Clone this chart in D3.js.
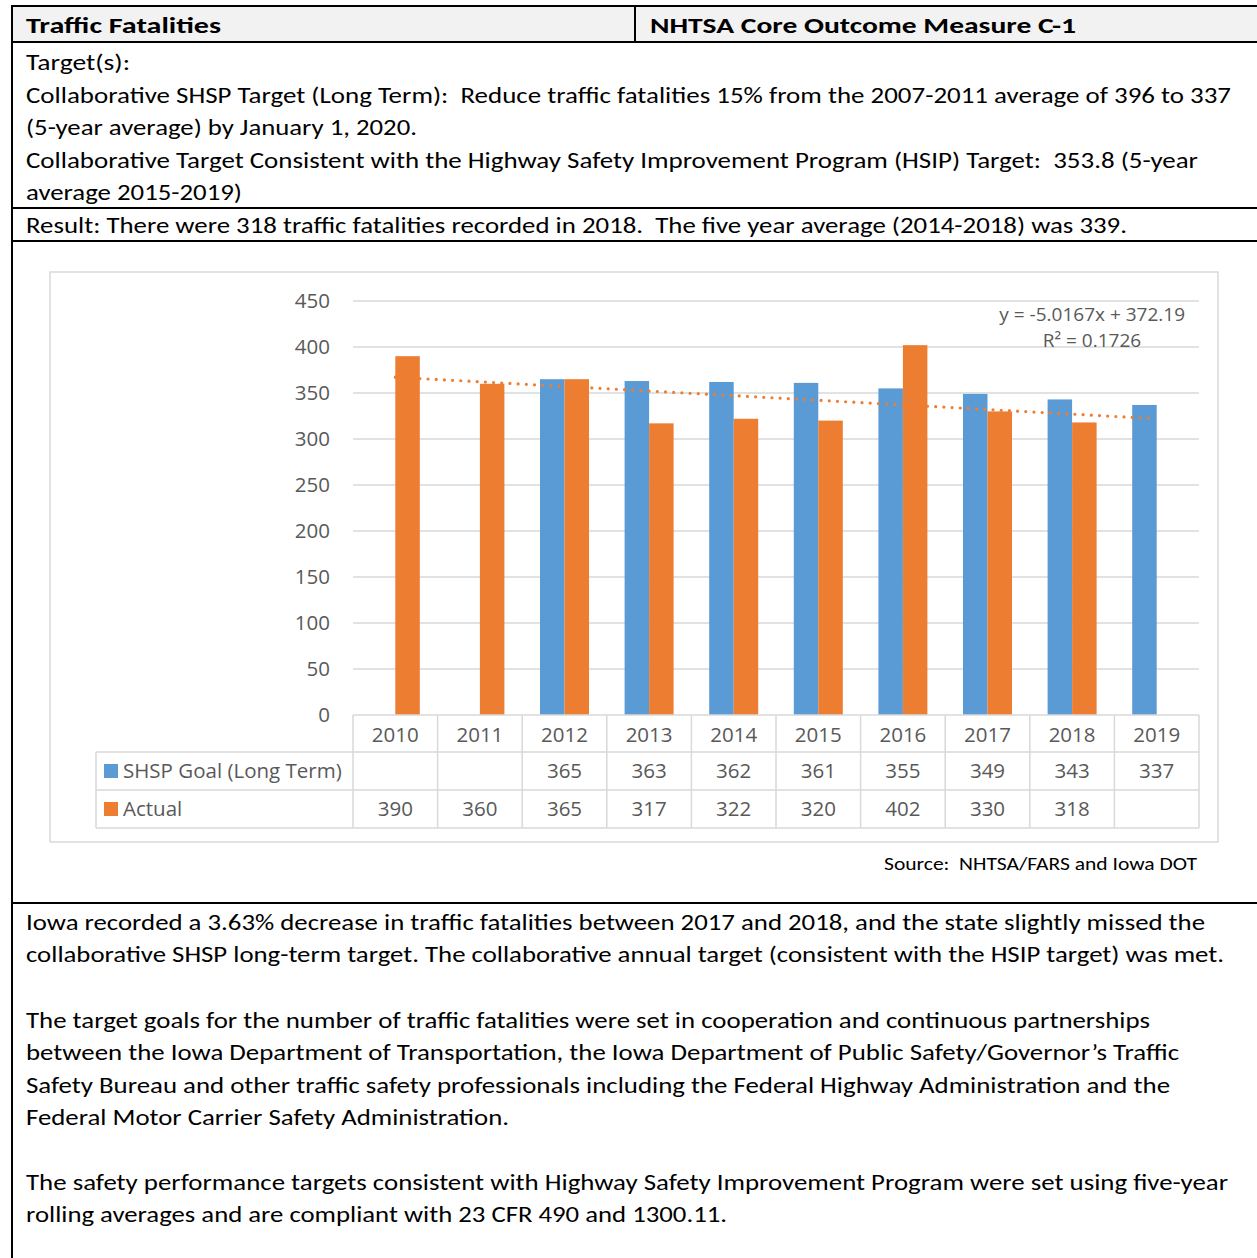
<!DOCTYPE html>
<html>
<head>
<meta charset="utf-8">
<script src="https://cdn.jsdelivr.net/npm/d3@7"></script>
<style>
body { margin: 0; background: #fff; }
svg text { font-family: Carlito, "Open Sans", sans-serif; white-space: pre; }
svg text.chart { font-family: "Open Sans", sans-serif; }
</style>
</head>
<body>
<script>
// chart data
var years = ['2010','2011','2012','2013','2014','2015','2016','2017','2018','2019'];
var goal = [null, null, 365, 363, 362, 361, 355, 349, 343, 337];
var actual = [390, 360, 365, 317, 322, 320, 402, 330, 318, null];
var yTicks = [0, 50, 100, 150, 200, 250, 300, 350, 400, 450];
var seriesNames = ['SHSP Goal (Long Term)', 'Actual'];
var colors = ['#5b9bd5', '#ed7d31'];

// document text, with the width each line takes in the original
var header = [['Traffic Fatalities', 26, 195], ['NHTSA Core Outcome Measure C-1', 650, 426]];
var targetLines = [
  ['Target(s):', 104],
  ['Collaborative SHSP Target (Long Term):  Reduce traffic fatalities 15% from the 2007-2011 average of 396 to 337', 1205],
  ['(5-year average) by January 1, 2020.', 391],
  ['Collaborative Target Consistent with the Highway Safety Improvement Program (HSIP) Target:  353.8 (5-year', 1172],
  ['average 2015-2019)', 216]
];
var resultLine = ['Result: There were 318 traffic fatalities recorded in 2018.  The five year average (2014-2018) was 339.', 1101];
var bottomLines = [
  [922, 'Iowa recorded a 3.63% decrease in traffic fatalities between 2017 and 2018, and the state slightly missed the', 1179],
  [954, 'collaborative SHSP long-term target. The collaborative annual target (consistent with the HSIP target) was met.', 1198],
  [1020, 'The target goals for the number of traffic fatalities were set in cooperation and continuous partnerships', 1124],
  [1052, 'between the Iowa Department of Transportation, the Iowa Department of Public Safety/Governor\u2019s Traffic', 1153],
  [1085, 'Safety Bureau and other traffic safety professionals including the Federal Highway Administration and the', 1144],
  [1117, 'Federal Motor Carrier Safety Administration.', 483],
  [1182, 'The safety performance targets consistent with Highway Safety Improvement Program were set using five-year', 1202],
  [1214, 'rolling averages and are compliant with 23 CFR 490 and 1300.11.', 701]
];

var W = 1257, H = 1258;
var svg = d3.select('body').append('svg').attr('width', W).attr('height', H);

function textLine(x, cy, str, len, size, weight, fill) {
  svg.append('text').attr('x', x).attr('y', cy).attr('dy', '0.35em')
    .attr('font-size', size).attr('font-weight', weight || 'normal')
    .attr('fill', fill || '#000')
    .attr('textLength', len).attr('lengthAdjust', 'spacingAndGlyphs')
    .text(str);
}

// document table
svg.append('rect').attr('x', 12).attr('y', 6).attr('width', W).attr('height', 36).attr('fill', '#f2f2f2');
header.forEach(function(h) { textLine(h[1], 25, h[0], h[2], 23, 'bold'); });
targetLines.forEach(function(t, i) { textLine(26, 62 + i * 32.6, t[0], t[1], 23); });
textLine(26, 225, resultLine[0], resultLine[1], 23);
bottomLines.forEach(function(b) { textLine(26, b[0], b[1], b[2], 23); });

[6, 42, 208, 241, 903].forEach(function(y) {
  svg.append('line').attr('x1', 11).attr('x2', W).attr('y1', y).attr('y2', y)
    .attr('stroke', '#000').attr('stroke-width', 2);
});
svg.append('line').attr('x1', 12).attr('x2', 12).attr('y1', 5).attr('y2', H).attr('stroke', '#000').attr('stroke-width', 2);
svg.append('line').attr('x1', 635).attr('x2', 635).attr('y1', 6).attr('y2', 42).attr('stroke', '#000').attr('stroke-width', 2);

// chart frame
svg.append('rect').attr('x', 50).attr('y', 272).attr('width', 1168).attr('height', 570)
  .attr('fill', 'none').attr('stroke', '#d9d9d9').attr('stroke-width', 1.5);

var x0 = d3.scaleBand().domain(years).range([353, 1199]);
var x1 = d3.scaleBand().domain([0, 1]).range([17.8, x0.bandwidth() - 17.8]);
var y = d3.scaleLinear().domain([0, 450]).range([715, 301]);

var grid = svg.append('g');
grid.selectAll('line').data(yTicks.slice(1)).join('line')
  .attr('x1', 353).attr('x2', 1199)
  .attr('y1', function(d) { return y(d); }).attr('y2', function(d) { return y(d); })
  .attr('stroke', '#d9d9d9').attr('stroke-width', 1.5);

svg.append('g').selectAll('text').data(yTicks).join('text').attr('class', 'chart')
  .attr('x', 330).attr('y', function(d) { return y(d); }).attr('dy', '0.35em')
  .attr('text-anchor', 'end').attr('font-size', 20.5).attr('fill', '#595959')
  .text(function(d) { return d; });

// bars
var series = [goal, actual];
series.forEach(function(vals, s) {
  svg.append('g').selectAll('rect')
    .data(years.map(function(yr, i) { return { yr: yr, v: vals[i] }; }).filter(function(d) { return d.v != null; }))
    .join('rect')
    .attr('x', function(d) { return x0(d.yr) + x1(s); })
    .attr('width', x1.bandwidth())
    .attr('y', function(d) { return y(d.v); })
    .attr('height', function(d) { return y(0) - y(d.v); })
    .attr('fill', colors[s]);
});

// linear trendline of Actual, extended one period forward
var pts = actual.map(function(v, i) { return [i + 1, v]; }).filter(function(p) { return p[1] != null; });
var mx = d3.mean(pts, function(p) { return p[0]; }), my = d3.mean(pts, function(p) { return p[1]; });
var sxy = d3.sum(pts, function(p) { return (p[0] - mx) * (p[1] - my); });
var sxx = d3.sum(pts, function(p) { return (p[0] - mx) * (p[0] - mx); });
var slope = sxy / sxx, icpt = my - slope * mx;
var ssTot = d3.sum(pts, function(p) { return (p[1] - my) * (p[1] - my); });
var ssRes = d3.sum(pts, function(p) { var e = p[1] - (slope * p[0] + icpt); return e * e; });
var r2 = 1 - ssRes / ssTot;

var cx = function(i) { return x0(years[i - 1]) + x0.bandwidth() / 2; };
svg.append('path')
  .datum([1, years.length])
  .attr('d', d3.line().x(function(i) { return cx(i); }).y(function(i) { return y(slope * i + icpt); }))
  .attr('fill', 'none').attr('stroke', colors[1]).attr('stroke-width', 3.2)
  .attr('stroke-linecap', 'round').attr('stroke-dasharray', '0 8.2');

svg.append('text').attr('class', 'chart').attr('x', 1185).attr('y', 314).attr('dy', '0.35em').attr('text-anchor', 'end')
  .attr('font-size', 19).attr('fill', '#595959')
  .text('y = ' + slope.toFixed(4) + 'x + ' + icpt.toFixed(2));
svg.append('text').attr('class', 'chart').attr('x', 1092).attr('y', 340).attr('dy', '0.35em').attr('text-anchor', 'middle')
  .attr('font-size', 19).attr('fill', '#595959')
  .text('R\u00b2 = ' + r2.toFixed(4));

// data table under the axis
var rowY = [715, 752, 790, 828];
var tbl = svg.append('g').attr('stroke', '#d9d9d9').attr('stroke-width', 1.5);
tbl.append('line').attr('x1', 353).attr('x2', 1199).attr('y1', rowY[0]).attr('y2', rowY[0]);
rowY.slice(1).forEach(function(ry) {
  tbl.append('line').attr('x1', 96).attr('x2', 1199).attr('y1', ry).attr('y2', ry);
});
tbl.append('line').attr('x1', 96).attr('x2', 96).attr('y1', rowY[1]).attr('y2', rowY[3]);
years.concat(['end']).forEach(function(yr, i) {
  var xx = 353 + i * x0.bandwidth();
  tbl.append('line').attr('x1', xx).attr('x2', xx).attr('y1', rowY[0]).attr('y2', rowY[3]);
});

svg.append('g').selectAll('text').data(years).join('text').attr('class', 'chart')
  .attr('x', function(d) { return x0(d) + x0.bandwidth() / 2; })
  .attr('y', (rowY[0] + rowY[1]) / 2 + 1).attr('dy', '0.35em')
  .attr('text-anchor', 'middle').attr('font-size', 20.5).attr('fill', '#595959')
  .text(function(d) { return d; });

series.forEach(function(vals, s) {
  var cyRow = (rowY[s + 1] + rowY[s + 2]) / 2;
  svg.append('rect').attr('x', 104).attr('y', cyRow - 7).attr('width', 14).attr('height', 14).attr('fill', colors[s]);
  svg.append('text').attr('class', 'chart').attr('x', 123).attr('y', cyRow).attr('dy', '0.35em')
    .attr('font-size', 20.5).attr('fill', '#595959').text(seriesNames[s]);
  svg.append('g').selectAll('text')
    .data(years.map(function(yr, i) { return { yr: yr, v: vals[i] }; }).filter(function(d) { return d.v != null; }))
    .join('text').attr('class', 'chart')
    .attr('x', function(d) { return x0(d.yr) + x0.bandwidth() / 2; })
    .attr('y', cyRow).attr('dy', '0.35em')
    .attr('text-anchor', 'middle').attr('font-size', 20.5).attr('fill', '#595959')
    .text(function(d) { return d.v; });
});

svg.append('text').attr('x', 1197).attr('y', 864).attr('dy', '0.35em').attr('text-anchor', 'end')
  .attr('font-size', 18).attr('fill', '#000')
  .attr('textLength', 313).attr('lengthAdjust', 'spacingAndGlyphs')
  .text('Source:  NHTSA/FARS and Iowa DOT');
</script>
</body>
</html>
